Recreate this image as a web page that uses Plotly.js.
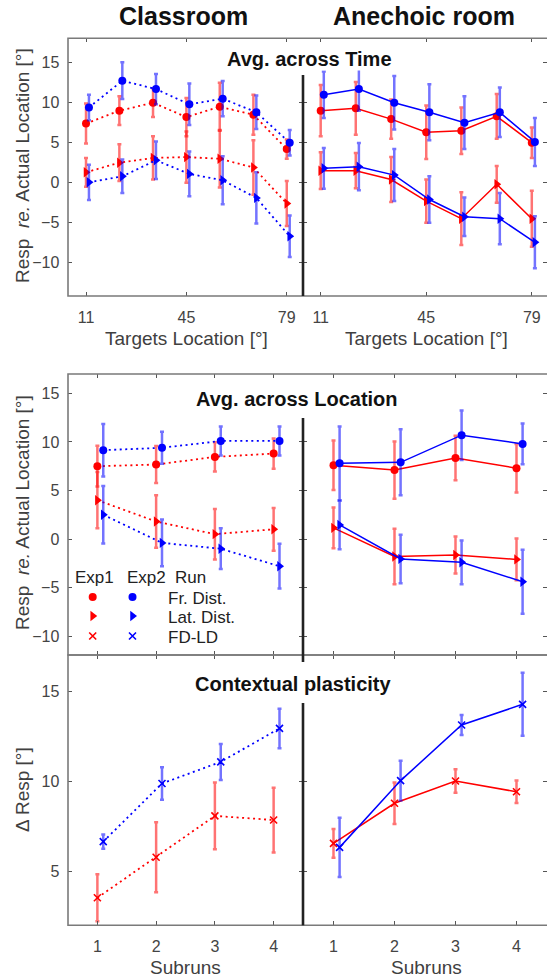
<!DOCTYPE html>
<html><head><meta charset="utf-8">
<script src="https://cdn.plot.ly/plotly-3.0.1.min.js"></script>
<style>html,body{margin:0;padding:0;background:#fff}</style>
</head><body><div id="chart" style="width:547px;height:980px"></div>
<script>
// ---------------- DATA ----------------
const targetLocations = [11, 22.3, 33.7, 45, 56.3, 67.7, 79];
const locationTicks = [11, 45, 79];
const subruns = [1, 2, 3, 4];
const roomNames = ["Classroom", "Anechoic room"];
const panelTitles = ["Avg. across Time", "Avg. across Location", "Contextual plasticity"];

// Avg. across Time — Classroom
const clsTimeFrExp1 = [7.4, 9.0, 10.0, 8.2, 9.5, 8.5, 4.2];
const clsTimeFrExp1Err = [2.5, 1.8, 1.8, 2.4, 3.0, 2.5, 1.2];
const clsTimeFrExp2 = [9.4, 12.75, 11.7, 9.8, 10.5, 8.8, 5.0];
const clsTimeFrExp2Err = [1.6, 2.3, 1.9, 2.6, 2.2, 2.1, 1.6];
const clsTimeLatExp1 = [1.3, 2.5, 3.1, 3.2, 3.0, 1.9, -2.6];
const clsTimeLatExp1Err = [1.8, 2.3, 2.7, 3.2, 3.6, 3.4, 2.8];
const clsTimeLatExp2 = [0.05, 0.8, 2.8, 1.1, 0.3, -1.9, -6.7];
const clsTimeLatExp2Err = [2.2, 2.1, 2.35, 2.8, 3.0, 3.2, 2.6];
// Avg. across Time — Anechoic room
const aneTimeFrExp1 = [9.0, 9.3, 7.95, 6.3, 6.5, 8.3, 5.0];
const aneTimeFrExp1Err = [3.2, 3.3, 2.45, 3.35, 2.9, 2.8, 1.9];
const aneTimeFrExp2 = [11.0, 11.7, 10.0, 8.8, 7.5, 8.8, 5.1];
const aneTimeFrExp2Err = [2.9, 2.7, 3.35, 3.5, 3.3, 3.1, 3.0];
const aneTimeLatExp1 = [1.5, 1.5, 0.4, -2.3, -4.5, -0.2, -4.5];
const aneTimeLatExp1Err = [2.3, 2.2, 2.8, 2.7, 3.3, 2.3, 3.5];
const aneTimeLatExp2 = [1.8, 2.0, 0.95, -2.1, -4.25, -4.5, -7.45];
const aneTimeLatExp2Err = [2.55, 2.95, 3.25, 2.9, 2.4, 3.2, 3.25];

// Avg. across Location — Classroom
const clsLocFrExp1 = [7.5, 7.67, 8.46, 8.8];
const clsLocFrExp1Err = [2.1, 1.9, 1.5, 1.55];
const clsLocFrExp2 = [9.15, 9.4, 10.1, 10.1];
const clsLocFrExp2Err = [2.7, 1.65, 1.5, 1.5];
const clsLocLatExp1 = [4.0, 1.8, 0.5, 1.0];
const clsLocLatExp1Err = [2.9, 2.7, 2.6, 2.2];
const clsLocLatExp2 = [2.5, -0.4, -1.0, -2.8];
const clsLocLatExp2Err = [2.95, 2.4, 2.1, 2.3];
// Avg. across Location — Anechoic room
const aneLocFrExp1 = [7.6, 7.1, 8.35, 7.3];
const aneLocFrExp1Err = [2.55, 2.95, 2.3, 2.5];
const aneLocFrExp2 = [7.8, 7.9, 10.7, 9.8];
const aneLocFrExp2Err = [3.8, 3.4, 2.55, 2.1];
const aneLocLatExp1 = [1.15, -1.8, -1.65, -2.1];
const aneLocLatExp1Err = [2.1, 2.85, 1.9, 2.15];
const aneLocLatExp2 = [1.45, -2.05, -2.4, -4.4];
const aneLocLatExp2Err = [2.5, 2.5, 2.25, 3.3];

// Contextual plasticity (FD-LD)
const clsPlastExp1 = [3.55, 5.8, 8.1, 7.87];
const clsPlastExp1Err = [1.3, 1.95, 1.85, 1.8];
const clsPlastExp2 = [6.67, 9.9, 11.1, 12.96];
const clsPlastExp2Err = [0.4, 0.9, 1.0, 1.1];
const anePlastExp1 = [6.57, 8.8, 10.04, 9.44];
const anePlastExp1Err = [0.8, 1.15, 0.65, 0.62];
const anePlastExp2 = [6.35, 10.06, 13.15, 14.3];
const anePlastExp2Err = [1.65, 1.1, 0.55, 1.75];

// ---------------- STYLE / LAYOUT ----------------
const W = 547, H = 980;
const px = v => v / W;
const py = v => 1 - v / H;
const RED = 'rgb(255,0,0)', BLUE = 'rgb(0,0,255)';
const RED_E = 'rgba(255,0,0,0.55)', BLUE_E = 'rgba(0,0,255,0.55)';
const FONT = 'Liberation Sans, Arial, sans-serif';
const FRAME = '#7a7a7a';

function shift(arr, d) { return arr.map(v => v + d); }

function trace(x, y, err, color, ecolor, symbol, dash, xa, ya) {
  const isX = symbol === 'x-thin';
  const dotted = dash === 'dot';
  return {
    type: 'scatter', mode: 'lines+markers', x: x, y: y,
    xaxis: xa, yaxis: ya, showlegend: false, hoverinfo: 'skip',
    line: { color: color, width: dotted ? 1.8 : 1.5, dash: dotted ? '2px,3.5px' : 'solid' },
    marker: isX ? { symbol: 'x-thin', size: 7, color: color, line: { color: color, width: 1.6 } }
                : { symbol: symbol, size: symbol === 'circle' ? 8 : 9, color: color },
    error_y: { type: 'data', array: err, visible: true, color: ecolor, thickness: 2.5, width: 2 }
  };
}

const locOff = 1.0, subOff = 0.1;
const traces = [
  // top-left (classroom, dotted)
  trace(targetLocations, clsTimeFrExp1, clsTimeFrExp1Err, RED, RED_E, 'circle', 'dot', 'x', 'y'),
  trace(targetLocations, clsTimeLatExp1, clsTimeLatExp1Err, RED, RED_E, 'triangle-right', 'dot', 'x', 'y'),
  trace(shift(targetLocations, locOff), clsTimeFrExp2, clsTimeFrExp2Err, BLUE, BLUE_E, 'circle', 'dot', 'x', 'y'),
  trace(shift(targetLocations, locOff), clsTimeLatExp2, clsTimeLatExp2Err, BLUE, BLUE_E, 'triangle-right', 'dot', 'x', 'y'),
  // top-right (anechoic, solid)
  trace(targetLocations, aneTimeFrExp1, aneTimeFrExp1Err, RED, RED_E, 'circle', 'solid', 'x2', 'y2'),
  trace(targetLocations, aneTimeLatExp1, aneTimeLatExp1Err, RED, RED_E, 'triangle-right', 'solid', 'x2', 'y2'),
  trace(shift(targetLocations, locOff), aneTimeFrExp2, aneTimeFrExp2Err, BLUE, BLUE_E, 'circle', 'solid', 'x2', 'y2'),
  trace(shift(targetLocations, locOff), aneTimeLatExp2, aneTimeLatExp2Err, BLUE, BLUE_E, 'triangle-right', 'solid', 'x2', 'y2'),
  // middle-left
  trace(subruns, clsLocFrExp1, clsLocFrExp1Err, RED, RED_E, 'circle', 'dot', 'x3', 'y3'),
  trace(subruns, clsLocLatExp1, clsLocLatExp1Err, RED, RED_E, 'triangle-right', 'dot', 'x3', 'y3'),
  trace(shift(subruns, subOff), clsLocFrExp2, clsLocFrExp2Err, BLUE, BLUE_E, 'circle', 'dot', 'x3', 'y3'),
  trace(shift(subruns, subOff), clsLocLatExp2, clsLocLatExp2Err, BLUE, BLUE_E, 'triangle-right', 'dot', 'x3', 'y3'),
  // middle-right
  trace(subruns, aneLocFrExp1, aneLocFrExp1Err, RED, RED_E, 'circle', 'solid', 'x4', 'y4'),
  trace(subruns, aneLocLatExp1, aneLocLatExp1Err, RED, RED_E, 'triangle-right', 'solid', 'x4', 'y4'),
  trace(shift(subruns, subOff), aneLocFrExp2, aneLocFrExp2Err, BLUE, BLUE_E, 'circle', 'solid', 'x4', 'y4'),
  trace(shift(subruns, subOff), aneLocLatExp2, aneLocLatExp2Err, BLUE, BLUE_E, 'triangle-right', 'solid', 'x4', 'y4'),
  // bottom-left
  trace(subruns, clsPlastExp1, clsPlastExp1Err, RED, RED_E, 'x-thin', 'dot', 'x5', 'y5'),
  trace(shift(subruns, subOff), clsPlastExp2, clsPlastExp2Err, BLUE, BLUE_E, 'x-thin', 'dot', 'x5', 'y5'),
  // bottom-right
  trace(subruns, anePlastExp1, anePlastExp1Err, RED, RED_E, 'x-thin', 'solid', 'x6', 'y6'),
  trace(shift(subruns, subOff), anePlastExp2, anePlastExp2Err, BLUE, BLUE_E, 'x-thin', 'solid', 'x6', 'y6')
];

// legend glyphs on a pixel-space overlay axis
const legendRows = [
  { sym: 'circle', y: 597 }, { sym: 'triangle-right', y: 616 }, { sym: 'x-thin', y: 636 }
];
legendRows.forEach(r => {
  [[92.7, RED], [132.5, BLUE]].forEach(([gx, c]) => {
    traces.push({
      type: 'scatter', mode: 'markers', x: [gx], y: [r.y], xaxis: 'x7', yaxis: 'y7',
      showlegend: false, hoverinfo: 'skip',
      marker: r.sym === 'x-thin' ? { symbol: 'x-thin', size: 7, color: c, line: { color: c, width: 1.6 } }
                                 : { symbol: r.sym, size: r.sym === 'circle' ? 8 : 9, color: c }
    });
  });
});

const xL = [px(68), px(303)], xR = [px(303), 1];
const yTop = [py(296), py(38.3)], yMid = [py(655), py(374)], yBot = [py(925.3), py(655)];

function xax(domain, range, anchor, tickvals, showlabels) {
  return {
    domain: domain, range: range, anchor: anchor, tickmode: 'array', tickvals: tickvals,
    ticktext: tickvals.map(String), showticklabels: showlabels,
    ticks: 'inside', ticklen: 4, tickwidth: 1, tickcolor: '#555',
    showline: true, linecolor: 'rgba(0,0,0,0)', linewidth: 1.5, mirror: 'ticks',
    showgrid: false, zeroline: false, fixedrange: true, ticklabelstandoff: 6,
    tickfont: { family: FONT, size: 16, color: '#444' }
  };
}
function yax(domain, range, anchor, tickvals, showlabels) {
  return {
    domain: domain, range: range, anchor: anchor, tickmode: 'array', tickvals: tickvals,
    showticklabels: showlabels,
    ticks: 'inside', ticklen: 4, tickwidth: 1, tickcolor: '#555',
    showline: true, linecolor: 'rgba(0,0,0,0)', linewidth: 1.5, mirror: 'ticks',
    showgrid: false, zeroline: false, fixedrange: true, ticklabelstandoff: 4,
    tickfont: { family: FONT, size: 16, color: '#444' }
  };
}
const yTicksResp = [-10, -5, 0, 5, 10, 15];
const yTicksDelta = [5, 10, 15];

const layout = {
  width: W, height: H, margin: { l: 0, r: 0, t: 0, b: 0 },
  paper_bgcolor: '#fff', plot_bgcolor: 'rgba(0,0,0,0)', showlegend: false,
  xaxis: xax(xL, [4.9, 84.5], 'y', locationTicks, true),
  yaxis: yax(yTop, [-14.16, 18.05], 'x', yTicksResp, true),
  xaxis2: xax(xR, [5.3, 83.9], 'y2', locationTicks, true),
  yaxis2: yax(yTop, [-14.16, 18.05], 'x2', yTicksResp, false),
  xaxis3: xax(xL, [0.5, 4.5], 'y3', subruns, false),
  yaxis3: yax(yMid, [-11.95, 17.0], 'x3', yTicksResp, true),
  xaxis4: xax(xR, [0.5, 4.5], 'y4', subruns, false),
  yaxis4: yax(yMid, [-11.95, 17.0], 'x4', yTicksResp, false),
  xaxis5: xax(xL, [0.5, 4.5], 'y5', subruns, true),
  yaxis5: yax(yBot, [2.02, 17.04], 'x5', yTicksDelta, true),
  xaxis6: xax(xR, [0.5, 4.5], 'y6', subruns, true),
  yaxis6: yax(yBot, [2.02, 17.04], 'x6', yTicksDelta, false),
  xaxis7: { domain: [0, 1], range: [0, W], anchor: 'y7', visible: false, fixedrange: true },
  yaxis7: { domain: [0, 1], range: [H, 0], anchor: 'x7', visible: false, fixedrange: true },
  shapes: [],
  annotations: []
};

// frames
[[38.3, 296], [374, 655], [655, 925.3]].forEach(([t, b]) => {
  layout.shapes.push({ type: 'rect', xref: 'paper', yref: 'paper', x0: px(68), x1: px(549), y0: py(b), y1: py(t),
    line: { color: FRAME, width: 1.6 }, layer: 'above' });
});
// dividers between rooms
[[75, 296], [418, 662], [703, 925.3]].forEach(([t, b]) => {
  layout.shapes.push({ type: 'line', xref: 'paper', yref: 'paper', x0: px(303), x1: px(303), y0: py(b), y1: py(t),
    line: { color: '#222', width: 2.6 }, layer: 'above' });
});

function ann(text, x, y, size, opts) {
  layout.annotations.push(Object.assign({
    text: text, xref: 'paper', yref: 'paper', x: px(x), y: py(y), showarrow: false,
    xanchor: 'center', yanchor: 'middle', font: { family: FONT, size: size, color: '#404040' }
  }, opts || {}));
}
const TF = { family: FONT, size: 20, color: '#111' };
// room titles
ann('<b>' + roomNames[0] + '</b>', 183, 16, 25, { font: { family: FONT, size: 25, color: '#111' } });
ann('<b>' + roomNames[1] + '</b>', 424, 16, 25, { font: { family: FONT, size: 25, color: '#111' } });
// panel titles (white box hides the ticks on the room divider)
ann('<b>' + panelTitles[0] + '</b>', 309, 59, 20, { font: TF, bgcolor: '#fff', borderpad: 0 });
ann('<b>' + panelTitles[1] + '</b>', 297, 399, 20, { font: TF, bgcolor: '#fff', borderpad: 0 });
ann('<b>' + panelTitles[2] + '</b>', 293, 684, 20, { font: TF, bgcolor: '#fff', borderpad: 0 });
// axis titles
ann('Targets Location [°]', 186, 338, 19);
ann('Targets Location [°]', 426, 338, 19);
ann('Subruns', 185, 967, 19);
ann('Subruns', 426, 967, 19);
ann('Resp&nbsp; <i>re.</i> Actual Location [°]', 22, 166, 19, { textangle: -90 });
ann('Resp&nbsp; <i>re.</i> Actual Location [°]', 22, 513, 19, { textangle: -90 });
ann('Δ Resp [°]', 22, 790, 19, { textangle: -90 });
// legend text
const LF = { family: FONT, size: 17, color: '#222' };
ann('Exp1', 73, 577, 17, { xanchor: 'left', font: LF });
ann('Exp2', 125, 577, 17, { xanchor: 'left', font: LF });
ann('Run', 173, 577, 17, { xanchor: 'left', font: LF });
ann('Fr. Dist.', 166, 598, 17, { xanchor: 'left', font: LF });
ann('Lat. Dist.', 166, 617, 17, { xanchor: 'left', font: LF });
ann('FD-LD', 166, 637, 17, { xanchor: 'left', font: LF });

Plotly.newPlot('chart', traces, layout, { staticPlot: true, displayModeBar: false });
</script></body></html>
